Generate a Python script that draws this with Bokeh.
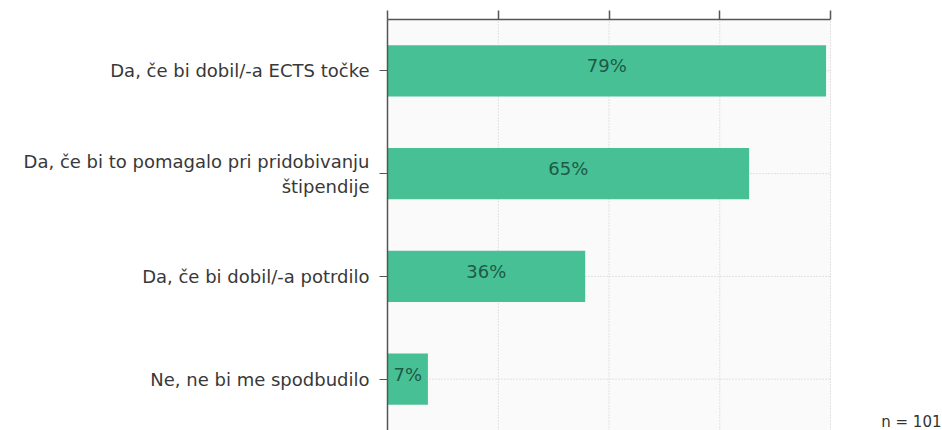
from bokeh.plotting import figure
from bokeh.models import FactorRange, Range1d, FixedTicker, ColumnDataSource
from bokeh.core.properties import value
from bokeh.embed import file_html
from bokeh.resources import INLINE

categories = [
    "Da, če bi dobil/-a ECTS točke",
    "Da, če bi to pomagalo pri pridobivanju\nštipendije",
    "Da, če bi dobil/-a potrdilo",
    "Ne, ne bi me spodbudilo",
]
values = [79.2, 65.3, 35.7, 7.3]
labels = ["79%", "65%", "36%", "7%"]
x_ticks = [0, 20, 40, 60, 80]
note = "n = 101"

FONT = "DejaVu Sans"
AXIS_END = x_ticks[-1]
PX_PER_UNIT = 443 / AXIS_END          # frame layout: 443 px for the axis span
FRAME_W = 942 - 387
RANGE_END = FRAME_W / PX_PER_UNIT
N_CAT = len(categories)

factors = list(reversed(categories))
src = ColumnDataSource(dict(cat=categories, val=values, mid=[v / 2 for v in values], lab=labels))

p = figure(
    width=942, height=430,
    y_range=FactorRange(factors=factors),
    x_range=Range1d(0, RANGE_END),
    x_axis_location="above",
    output_backend="svg", toolbar_location=None,
    min_border_left=387, min_border_right=0, min_border_top=19, min_border_bottom=0,
)
p.outline_line_color = None
p.background_fill_color = "white"
p.xgrid.visible = False
p.ygrid.visible = False

# very light plot-area background limited to the axis span
p.hbar(y=categories, left=0, right=AXIS_END, height=1.0, fill_color="#fafafa", line_color=None)

# dotted grid lines limited to the axis span
p.segment(x0=x_ticks, x1=x_ticks, y0=[0] * len(x_ticks), y1=[N_CAT] * len(x_ticks),
          line_color="#c8c8c8", line_dash="1 2", line_width=1)
p.segment(x0=[0] * N_CAT, x1=[AXIS_END] * N_CAT, y0=categories, y1=categories,
          line_color="#c8c8c8", line_dash="1 2", line_width=1)

p.hbar(y="cat", right="val", left=0, height=0.5, source=src,
       fill_color="#47c095", line_color=None)
p.text(x="mid", y="cat", text="lab", source=src, text_align="center", text_baseline="middle",
       y_offset=-5, text_font=value(FONT), text_font_size="18px", text_color="#1d5a45")

# sample size note in the bottom-right corner
p.text(x=[(941 - 387) / PX_PER_UNIT], y=[0.085], text=[note], text_align="right",
       text_baseline="middle", text_font=value(FONT), text_font_size="15px", text_color="#333333")

# x axis (top)
xa = p.xaxis[0]
xa.ticker = FixedTicker(ticks=x_ticks)
xa.bounds = (0, AXIS_END)
xa.major_label_overrides = {t: "" for t in x_ticks}
xa.major_label_standoff = 0
xa.major_tick_out = 9
xa.major_tick_in = 0
xa.minor_tick_out = 0
xa.minor_tick_in = 0
xa.axis_line_color = "#555555"
xa.major_tick_line_color = "#555555"
xa.axis_line_width = 1.5
xa.major_tick_line_width = 1.5

# y axis
ya = p.yaxis[0]
ya.major_label_text_font = FONT
ya.major_label_text_font_size = "18px"
ya.major_label_text_color = "#383838"
ya.major_tick_out = 8
ya.major_tick_in = 0
ya.major_label_standoff = 10
ya.axis_line_color = "#555555"
ya.major_tick_line_color = "#555555"
ya.axis_line_width = 1.5

open("out.html", "w").write(file_html(p, INLINE))
